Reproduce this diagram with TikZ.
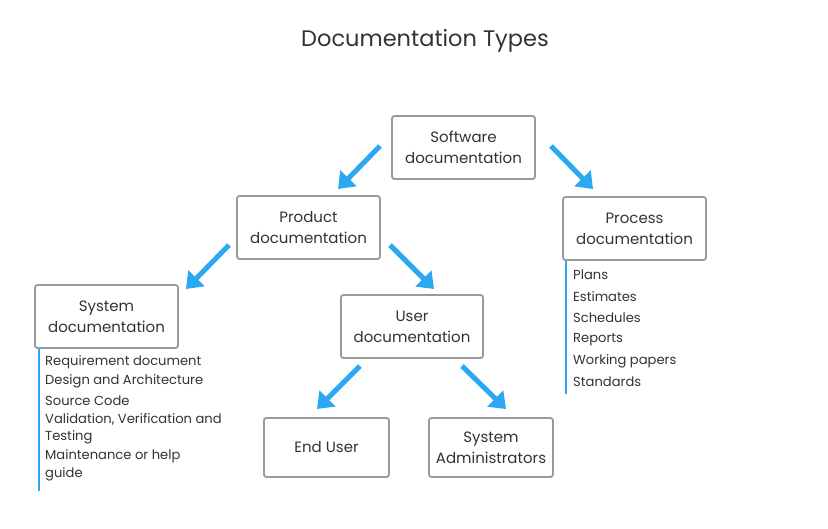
\documentclass[tikz,border=0pt]{standalone}
\usepackage{fontspec}
\setmainfont{Poppins}
\usetikzlibrary{arrows.meta}
\definecolor{boxgray}{HTML}{9A9A9A}
\definecolor{arrowblue}{HTML}{2AA8F2}
\definecolor{textgray}{HTML}{333333}
\begin{document}
\begin{tikzpicture}[x=1pt,y=-1pt,
  docbox/.style={draw=boxgray, line width=1.8pt, rounded corners=2.5pt, fill=white,
    minimum width=143pt, minimum height=63pt, align=center, inner sep=0pt,
    font=\fontsize{15}{21}\selectfont, text=textgray},
  flow/.style={draw=arrowblue, line width=5pt,
    -{Triangle[length=15pt,width=22pt]}},
  bar/.style={draw=arrowblue, line width=2pt},
  listitem/.style={anchor=west, inner sep=0pt, font=\fontsize{13.1}{15}\selectfont, text=textgray}]
\useasboundingbox (0,0) rectangle (828,528);

\node[font=\fontsize{22.5}{26}\selectfont, text=textgray] (title) at (425,41) {Documentation Types};

% boxes
\node[docbox] (soft) at (463.5,147.5) {Software\\documentation};
\node[docbox] (prod) at (308.5,227.5) {Product\\documentation};
\node[docbox] (proc) at (634.5,228.5) {Process\\documentation};
\node[docbox] (sys)  at (106.5,316.5) {System\\documentation};
\node[docbox, minimum width=142pt] (user) at (412,326.5) {User\\documentation};
\node[docbox, minimum width=125pt, minimum height=59pt] (end) at (326.5,447.5) {End User};
\node[docbox, minimum width=124pt, minimum height=59pt] (admin) at (491,447.5) {System\\Administrators};

% arrow end points
\coordinate (a1s) at (380,146); \coordinate (a1e) at (338,189);
\coordinate (a2s) at (551,146); \coordinate (a2e) at (593,189);
\coordinate (a3s) at (229,245); \coordinate (a3e) at (186,289);
\coordinate (a4s) at (390,245); \coordinate (a4e) at (434,289);
\coordinate (a5s) at (360,366); \coordinate (a5e) at (317,409);
\coordinate (a6s) at (462,366); \coordinate (a6e) at (506,409);

\draw[flow] (a1s) -- (a1e);
\draw[flow] (a2s) -- (a2e);
\draw[flow] (a3s) -- (a3e);
\draw[flow] (a4s) -- (a4e);
\draw[flow] (a5s) -- (a5e);
\draw[flow] (a6s) -- (a6e);

% system documentation list
\coordinate (sysbarend) at (39,491);
\draw[bar] (sys.south west -| sysbarend) -- (sysbarend);
\node[listitem] (s1) at (45,362.5) {Requirement document};
\node[listitem] (s2) at (45,381.5) {Design and Architecture};
\node[listitem] (s3) at (45,400.5) {Source Code};
\node[listitem] (s4) at (45,419.5) {Validation, Verification and};
\node[listitem] (s5) at (45,437.5) {Testing};
\node[listitem] (s6) at (45,456.5) {Maintenance or help};
\node[listitem] (s7) at (45,474.5) {guide};

% process documentation list
\coordinate (procbarend) at (566,394);
\draw[bar] (proc.south west -| procbarend) -- (procbarend);
\node[listitem] (p1) at (573,274.5) {Plans};
\node[listitem] (p2) at (573,296.5) {Estimates};
\node[listitem] (p3) at (573,317.5) {Schedules};
\node[listitem] (p4) at (573,339.5) {Reports};
\node[listitem] (p5) at (573,361.5) {Working papers};
\node[listitem] (p6) at (573,381.5) {Standards};
\end{tikzpicture}
\end{document}
